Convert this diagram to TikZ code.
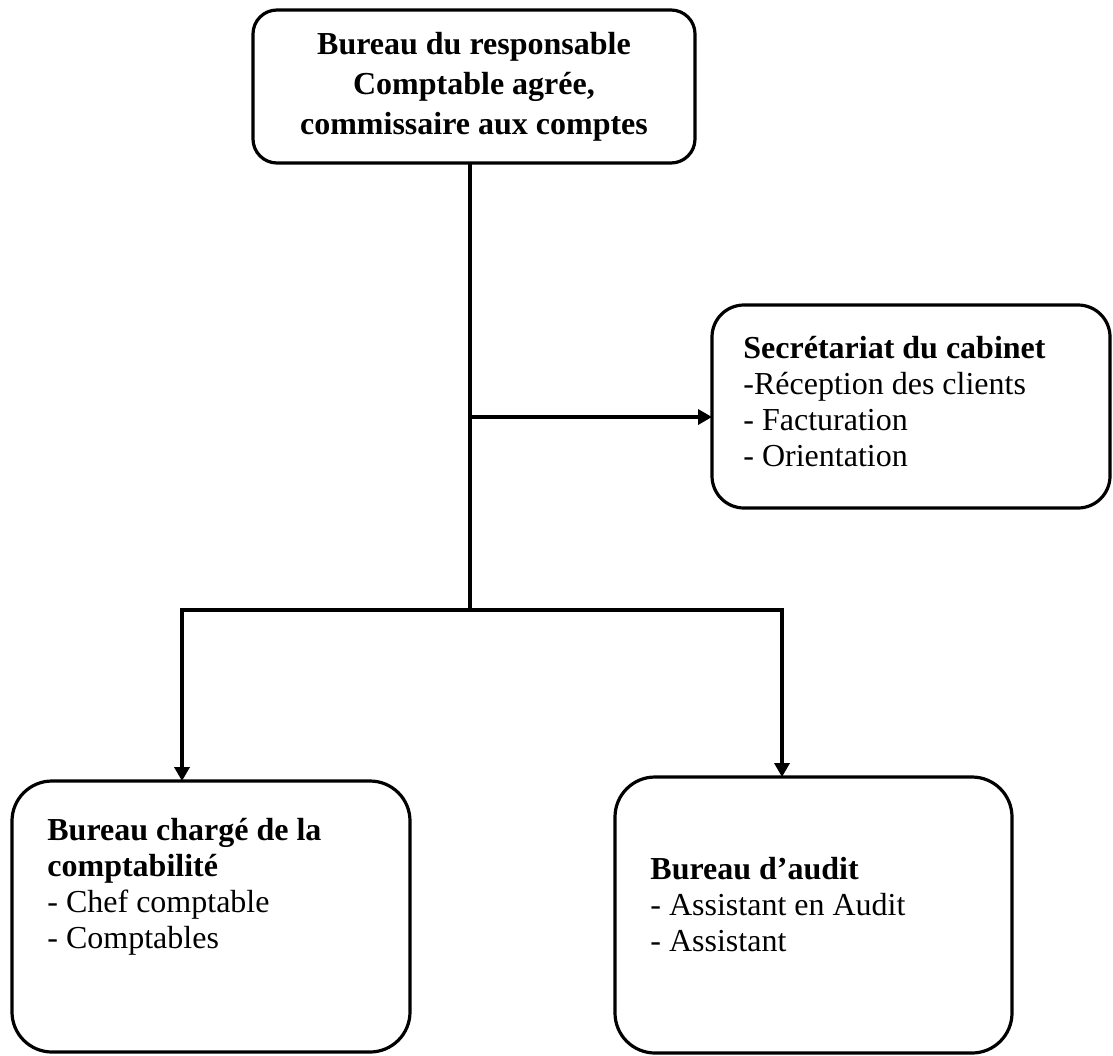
\documentclass[tikz,border=0pt]{standalone}
\usepackage{fontspec}
\setmainfont{Liberation Serif}
\usetikzlibrary{arrows.meta}
\begin{document}
\begin{tikzpicture}[x=0.5pt,y=-0.5pt,
  boxframe/.style={draw, line width=1.6pt, inner sep=0pt, outer sep=0pt},
  txt/.style={inner sep=0pt, align=left, anchor=west, font=\fontsize{16}{18}\selectfont},
  conn/.style={line width=1.8pt},
  arr/.style={line width=1.8pt, -{Triangle[length=7pt,width=7.5pt]}}]
\useasboundingbox (0,0) rectangle (1113,1055);

% top box
\node[boxframe, rounded corners=12pt, minimum width=221pt, minimum height=76.5pt,
      align=center, font=\fontsize{16}{20}\selectfont\bfseries] (top) at (474,86.5)
  {Bureau du responsable\\Comptable agrée,\\commissaire aux comptes};

% secretariat
\node[boxframe, rounded corners=16pt, minimum width=199pt, minimum height=101.5pt] (sec) at (911,406.5) {};
\node[txt] (sectxt) at (743,402)
  {\textbf{Secrétariat du cabinet}\\-Réception des clients\\- Facturation\\- Orientation};

% accounting
\node[boxframe, rounded corners=20pt, minimum width=199pt, minimum height=135.5pt] (acc) at (211,916.5) {};
\node[txt] (acctxt) at (47,886.5)
  {\textbf{Bureau chargé de la}\\\textbf{comptabilité}\\- Chef comptable\\- Comptables};

% audit
\node[boxframe, rounded corners=20pt, minimum width=198.5pt, minimum height=138pt] (aud) at (813.5,915) {};
\node[txt] (audtxt) at (650,904.5)
  {\textbf{Bureau d’audit}\\- Assistant en Audit\\- Assistant};

% connectors
\coordinate (j1) at (470,417);
\coordinate (j2) at (470,610);
\coordinate (jl) at (182,610);
\coordinate (jr) at (782,610);

\draw[conn] (top.south -| j1) -- (j2);
\draw[arr] (j1) -- (sec.west |- j1);
\draw[conn, line cap=rect] (jl) -- (jr);
\draw[arr] (jl) -- (jl |- acc.north);
\draw[arr] (jr) -- (jr |- aud.north);
\end{tikzpicture}
\end{document}
